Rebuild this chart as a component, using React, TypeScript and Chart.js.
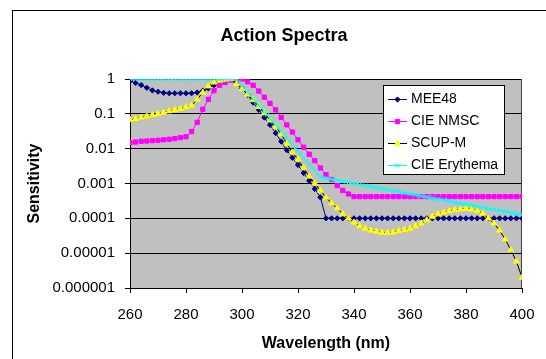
import React, { useEffect, useRef } from "react";
import { Chart, registerables } from "chart.js";

Chart.register(...registerables);

// ---------- DATA ----------
const wavelengths2nm = [
  260, 262, 264, 266, 268, 270, 272, 274, 276, 278,
  280, 282, 284, 286, 288, 290, 292, 294, 296, 298,
  300, 302, 304, 306, 308, 310, 312, 314, 316, 318,
  320, 322, 324, 326, 328, 330, 332, 334, 336, 338,
  340, 342, 344, 346, 348, 350, 352, 354, 356, 358,
  360, 362, 364, 366, 368, 370, 372, 374, 376, 378,
  380, 382, 384, 386, 388, 390, 392, 394, 396, 398,
  400,
];

const wavelengths1nm = [
  260, 261, 262, 263, 264, 265, 266, 267, 268, 269,
  270, 271, 272, 273, 274, 275, 276, 277, 278, 279,
  280, 281, 282, 283, 284, 285, 286, 287, 288, 289,
  290, 291, 292, 293, 294, 295, 296, 297, 298, 299,
  300, 301, 302, 303, 304, 305, 306, 307, 308, 309,
  310, 311, 312, 313, 314, 315, 316, 317, 318, 319,
  320, 321, 322, 323, 324, 325, 326, 327, 328, 329,
  330, 331, 332, 333, 334, 335, 336, 337, 338, 339,
  340, 341, 342, 343, 344, 345, 346, 347, 348, 349,
  350, 351, 352, 353, 354, 355, 356, 357, 358, 359,
  360, 361, 362, 363, 364, 365, 366, 367, 368, 369,
  370, 371, 372, 373, 374, 375, 376, 377, 378, 379,
  380, 381, 382, 383, 384, 385, 386, 387, 388, 389,
  390, 391, 392, 393, 394, 395, 396, 397, 398, 399,
  400,
];

const mee48 = [
  0.88, 0.77, 0.67, 0.56, 0.47, 0.43, 0.40, 0.39, 0.39, 0.39,
  0.39, 0.39, 0.41, 0.46, 0.54, 0.67, 0.80, 0.93, 1.0, 0.80,
  0.54, 0.35, 0.21, 0.13, 0.078, 0.048, 0.028, 0.016, 0.009, 0.0055,
  0.0034, 0.002, 0.0012, 0.0007, 0.0004, 0.0001, 0.0001, 0.0001, 0.0001, 0.0001,
  0.0001, 0.0001, 0.0001, 0.0001, 0.0001, 0.0001, 0.0001, 0.0001, 0.0001, 0.0001,
  0.0001, 0.0001, 0.0001, 0.0001, 0.0001, 0.0001, 0.0001, 0.0001, 0.0001, 0.0001,
  0.0001, 0.0001, 0.0001, 0.0001, 0.0001, 0.0001, 0.0001, 0.0001, 0.0001, 0.0001,
  0.0001,
];

const cieNmsc = [
  0.0148, 0.0155, 0.0163, 0.0166, 0.017, 0.0174, 0.018, 0.0186, 0.0194, 0.0208,
  0.022, 0.031, 0.057, 0.135, 0.26, 0.46, 0.66, 0.79, 0.93, 1.0,
  1.0, 0.83, 0.66, 0.45, 0.30, 0.20, 0.13, 0.079, 0.048, 0.030,
  0.018, 0.011, 0.0069, 0.0045, 0.0028, 0.0018, 0.0013, 0.00087, 0.00063, 0.0005,
  0.00042, 0.00042, 0.00042, 0.00042, 0.00042, 0.00042, 0.00042, 0.00042, 0.00042, 0.00042,
  0.00042, 0.00042, 0.00042, 0.00042, 0.00042, 0.00042, 0.00042, 0.00042, 0.00042, 0.00042,
  0.00042, 0.00042, 0.00042, 0.00042, 0.00042, 0.00042, 0.00042, 0.00042, 0.00042, 0.00042,
  0.00042,
];

const scupM = [
  0.067, 0.072, 0.079, 0.085, 0.093, 0.10, 0.11, 0.12, 0.13, 0.14,
  0.155, 0.175, 0.26, 0.41, 0.62, 0.8, 0.9, 0.97, 1.0, 0.72,
  0.52, 0.36, 0.25, 0.16, 0.105, 0.066, 0.043, 0.026, 0.014, 0.0078,
  0.0049, 0.0028, 0.0016, 0.001, 0.00063, 0.0004, 0.00027, 0.000195, 0.000132, 0.0001,
  0.000076, 0.00006, 0.000051, 0.000045, 0.000042, 0.000039, 0.000039, 0.00004, 0.000043, 0.000047,
  0.000051, 0.00006, 0.000072, 0.000089, 0.000112, 0.000132, 0.000148, 0.000162, 0.000174, 0.000182,
  0.00019, 0.000182, 0.000166, 0.000138, 0.0001, 0.000072, 0.000045, 0.000025, 0.0000123, 0.0000058,
  0.000002,
];

const cieErythema = [
  1, 1, 1, 1, 1, 1, 1, 1, 1, 1,
  1, 1, 1, 1, 1, 1, 1, 1, 1, 1,
  1, 1, 1, 1, 1, 1, 1, 1, 1, 1,
  1, 1, 1, 1, 1, 1, 1, 1, 1, 0.805,
  0.649, 0.522, 0.421, 0.339, 0.273, 0.220, 0.177, 0.143, 0.115, 0.0926,
  0.0746, 0.0601, 0.0484, 0.0390, 0.0314, 0.0253, 0.0204, 0.0164, 0.0132, 0.0106,
  0.00858, 0.00691, 0.00557, 0.00449, 0.00361, 0.00291, 0.00234, 0.00189, 0.00152, 0.00146,
  0.00141, 0.00136, 0.00132, 0.00127, 0.00123, 0.00119, 0.00115, 0.00111, 0.00107, 0.00104,
  0.001, 0.000966, 0.000933, 0.000902, 0.000871, 0.000841, 0.000813, 0.000785, 0.000759, 0.000733,
  0.000708, 0.000684, 0.000661, 0.000638, 0.000617, 0.000596, 0.000575, 0.000556, 0.000537, 0.000519,
  0.000501, 0.000484, 0.000468, 0.000452, 0.000437, 0.000422, 0.000407, 0.000394, 0.00038, 0.000367,
  0.000355, 0.000343, 0.000331, 0.00032, 0.000309, 0.000299, 0.000288, 0.000279, 0.000269, 0.00026,
  0.000251, 0.000243, 0.000234, 0.000226, 0.000219, 0.000211, 0.000204, 0.000197, 0.000191, 0.000184,
  0.000178, 0.000172, 0.000166, 0.00016, 0.000155, 0.00015, 0.000145, 0.00014, 0.000135, 0.00013,
  0.000126,
];

const seriesNames = ["MEE48", "CIE NMSC", "SCUP-M", "CIE Erythema"];
const xTickValues = [260, 280, 300, 320, 340, 360, 380, 400];
const yTickValues = [1, 0.1, 0.01, 0.001, 0.0001, 0.00001, 0.000001];
const yTickLabels = ["1", "0.1", "0.01", "0.001", "0.0001", "0.00001", "0.000001"];
const chartTitle = "Action Spectra";
const xAxisTitle = "Wavelength (nm)";
const yAxisTitle = "Sensitivity";

// ---------- STYLES ----------
const FONT = "'Liberation Sans', Arial, sans-serif";
const CANVAS_W = 568;
const CANVAS_H = 359;
const PLOT_RIGHT = 522;

type SeriesStyle = {
  line: string;
  fill: string;
  stroke: string;
  pointStyle: string;
  radius: number;
};

const styles: SeriesStyle[] = [
  { line: "#000080", fill: "#000080", stroke: "#000080", pointStyle: "rectRot", radius: 2.6 },
  { line: "#FF00FF", fill: "#FF00FF", stroke: "#FF00FF", pointStyle: "rect", radius: 3 },
  { line: "#000000", fill: "#FFFF00", stroke: "#FFFF00", pointStyle: "triangle", radius: 3.4 },
  { line: "#00FFFF", fill: "#00FFFF", stroke: "#00FFFF", pointStyle: "crossRot", radius: 2.6 },
];

function drawMarker(ctx: CanvasRenderingContext2D, s: SeriesStyle, x: number, y: number) {
  const r = s.radius;
  ctx.save();
  ctx.fillStyle = s.fill;
  ctx.strokeStyle = s.stroke;
  ctx.lineWidth = 1;
  ctx.beginPath();
  if (s.pointStyle === "rectRot") {
    ctx.moveTo(x, y - r);
    ctx.lineTo(x + r, y);
    ctx.lineTo(x, y + r);
    ctx.lineTo(x - r, y);
    ctx.closePath();
    ctx.fill();
    ctx.stroke();
  } else if (s.pointStyle === "rect") {
    const h = r * Math.SQRT1_2;
    ctx.rect(x - h, y - h, 2 * h, 2 * h);
    ctx.fill();
    ctx.stroke();
  } else if (s.pointStyle === "triangle") {
    ctx.moveTo(x, y - r);
    ctx.lineTo(x + r * 0.866, y + r * 0.5);
    ctx.lineTo(x - r * 0.866, y + r * 0.5);
    ctx.closePath();
    ctx.fill();
    ctx.stroke();
  } else {
    const h = r * Math.SQRT1_2;
    ctx.moveTo(x - h, y - h);
    ctx.lineTo(x + h, y + h);
    ctx.moveTo(x + h, y - h);
    ctx.lineTo(x - h, y + h);
    ctx.stroke();
  }
  ctx.restore();
}

const decorPlugin = {
  id: "decor",
  beforeDraw(chart: any) {
    const { ctx, chartArea: a, width, height } = chart;
    ctx.save();
    ctx.fillStyle = "#FFFFFF";
    ctx.fillRect(0, 0, width, height);
    ctx.fillStyle = "#C0C0C0";
    ctx.fillRect(a.left, a.top, a.right - a.left, a.bottom - a.top);
    ctx.strokeStyle = "#000000";
    ctx.lineWidth = 1;
    ctx.strokeRect(12.5, 10.5, 543, 400);
    ctx.restore();
  },
  beforeDatasetsDraw(chart: any) {
    const { ctx, chartArea: a } = chart;
    ctx.save();
    ctx.strokeStyle = "#404040";
    ctx.lineWidth = 1;
    ctx.beginPath();
    ctx.moveTo(Math.round(a.right) - 0.5, a.top);
    ctx.lineTo(Math.round(a.right) - 0.5, a.bottom);
    ctx.stroke();
    ctx.restore();
  },
  afterDraw(chart: any) {
    const { ctx } = chart;
    const lx = 383.5, ly = 85.5, lw = 121, lh = 89;
    ctx.save();
    ctx.fillStyle = "#FFFFFF";
    ctx.fillRect(lx, ly, lw, lh);
    ctx.strokeStyle = "#000000";
    ctx.lineWidth = 1;
    ctx.strokeRect(lx, ly, lw, lh);
    ctx.font = `14px ${FONT}`;
    ctx.textBaseline = "middle";
    ctx.textAlign = "left";
    seriesNames.forEach((name, i) => {
      const y = 98.5 + i * 22.2;
      const s = styles[i];
      ctx.strokeStyle = s.line;
      ctx.lineWidth = 1;
      ctx.beginPath();
      ctx.moveTo(388, Math.round(y) + 0.5);
      ctx.lineTo(407, Math.round(y) + 0.5);
      ctx.stroke();
      drawMarker(ctx, s, 397.5, Math.round(y) + 0.5);
      ctx.fillStyle = "#000000";
      ctx.fillText(name, 411, y + 0.5);
    });
    ctx.restore();
  },
};

export default function App() {
  const canvasRef = useRef<HTMLCanvasElement | null>(null);

  useEffect(() => {
    if (!canvasRef.current) return;
    Chart.defaults.font.family = FONT;
    Chart.defaults.color = "#000000";

    const seriesData = [
      wavelengths2nm.map((x, i) => ({ x, y: mee48[i] })),
      wavelengths2nm.map((x, i) => ({ x, y: cieNmsc[i] })),
      wavelengths2nm.map((x, i) => ({ x, y: scupM[i] })),
      wavelengths1nm.map((x, i) => ({ x, y: cieErythema[i] })),
    ];

    const datasets = seriesNames.map((name, i) => ({
      label: name,
      data: seriesData[i],
      borderColor: styles[i].line,
      backgroundColor: styles[i].fill,
      borderWidth: 1,
      pointStyle: styles[i].pointStyle as any,
      pointRadius: styles[i].radius,
      pointBackgroundColor: styles[i].fill,
      pointBorderColor: styles[i].stroke,
      pointBorderWidth: 1,
      tension: 0,
      fill: false,
      order: 4 - i,
    }));

    const chart = new Chart(canvasRef.current, {
      type: "line",
      data: { datasets },
      plugins: [decorPlugin],
      options: {
        responsive: false,
        animation: false,
        devicePixelRatio: 1,
        layout: { padding: { left: 0, right: 0, top: 0, bottom: 0 } },
        plugins: {
          legend: { display: false },
          tooltip: { enabled: false },
          title: {
            display: true,
            text: chartTitle,
            color: "#000000",
            font: { size: 18, weight: "bold", family: FONT },
            padding: { top: 25.2, bottom: 32.2 },
          },
        },
        scales: {
          x: {
            type: "linear",
            min: 260,
            max: 400,
            afterBuildTicks: (scale: any) => {
              scale.ticks = xTickValues.map((v) => ({ value: v }));
            },
            afterFit: (scale: any) => {
              scale.height = 71;
            },
            ticks: {
              color: "#000000",
              font: { size: 15, family: FONT },
              padding: 13,
              maxRotation: 0,
              autoSkip: false,
            },
            grid: {
              drawOnChartArea: false,
              drawTicks: true,
              tickLength: 5,
              color: "#000000",
              lineWidth: 1,
            },
            border: { display: true, color: "#000000", width: 1 },
            title: {
              display: true,
              text: xAxisTitle,
              color: "#000000",
              font: { size: 16, weight: "bold", family: FONT },
              padding: { top: 0, bottom: 5.4 },
            },
          },
          y: {
            type: "logarithmic",
            position: "left",
            min: 0.000001,
            max: 1,
            afterBuildTicks: (scale: any) => {
              scale.ticks = yTickValues.map((v) => ({ value: v }));
            },
            afterFit: (scale: any) => {
              scale.width = 130;
            },
            ticks: {
              color: "#000000",
              font: { size: 15, family: FONT },
              padding: 10,
              autoSkip: false,
              callback: (value: any) => {
                const idx = yTickValues.findIndex((v) => Math.abs(Math.log10(v) - Math.log10(Number(value))) < 1e-6);
                return idx >= 0 ? yTickLabels[idx] : "";
              },
            },
            grid: {
              drawOnChartArea: true,
              drawTicks: true,
              tickLength: 5,
              color: "#000000",
              lineWidth: 1,
            },
            border: { display: true, color: "#000000", width: 1 },
            title: {
              display: true,
              text: yAxisTitle,
              color: "#000000",
              font: { size: 16, weight: "bold", family: FONT },
              padding: { top: 25.4, bottom: 0 },
            },
          },
          // empty spacer on the right so the chart title centres over the whole frame
          spacer: {
            type: "linear",
            position: "right",
            display: true,
            min: 0,
            max: 1,
            afterFit: (scale: any) => {
              scale.width = CANVAS_W - PLOT_RIGHT;
            },
            ticks: { display: false },
            grid: { display: false, drawTicks: false, drawOnChartArea: false },
            border: { display: false },
            title: { display: false },
          },
        },
      } as any,
    });

    return () => {
      chart.destroy();
    };
  }, []);

  return (
    <div
      style={{
        position: "fixed",
        left: 0,
        top: 0,
        width: 546,
        height: 359,
        overflow: "hidden",
        background: "#FFFFFF",
      }}
    >
      <canvas
        ref={canvasRef}
        width={CANVAS_W}
        height={CANVAS_H}
        style={{ width: CANVAS_W, height: CANVAS_H, display: "block" }}
      />
    </div>
  );
}
